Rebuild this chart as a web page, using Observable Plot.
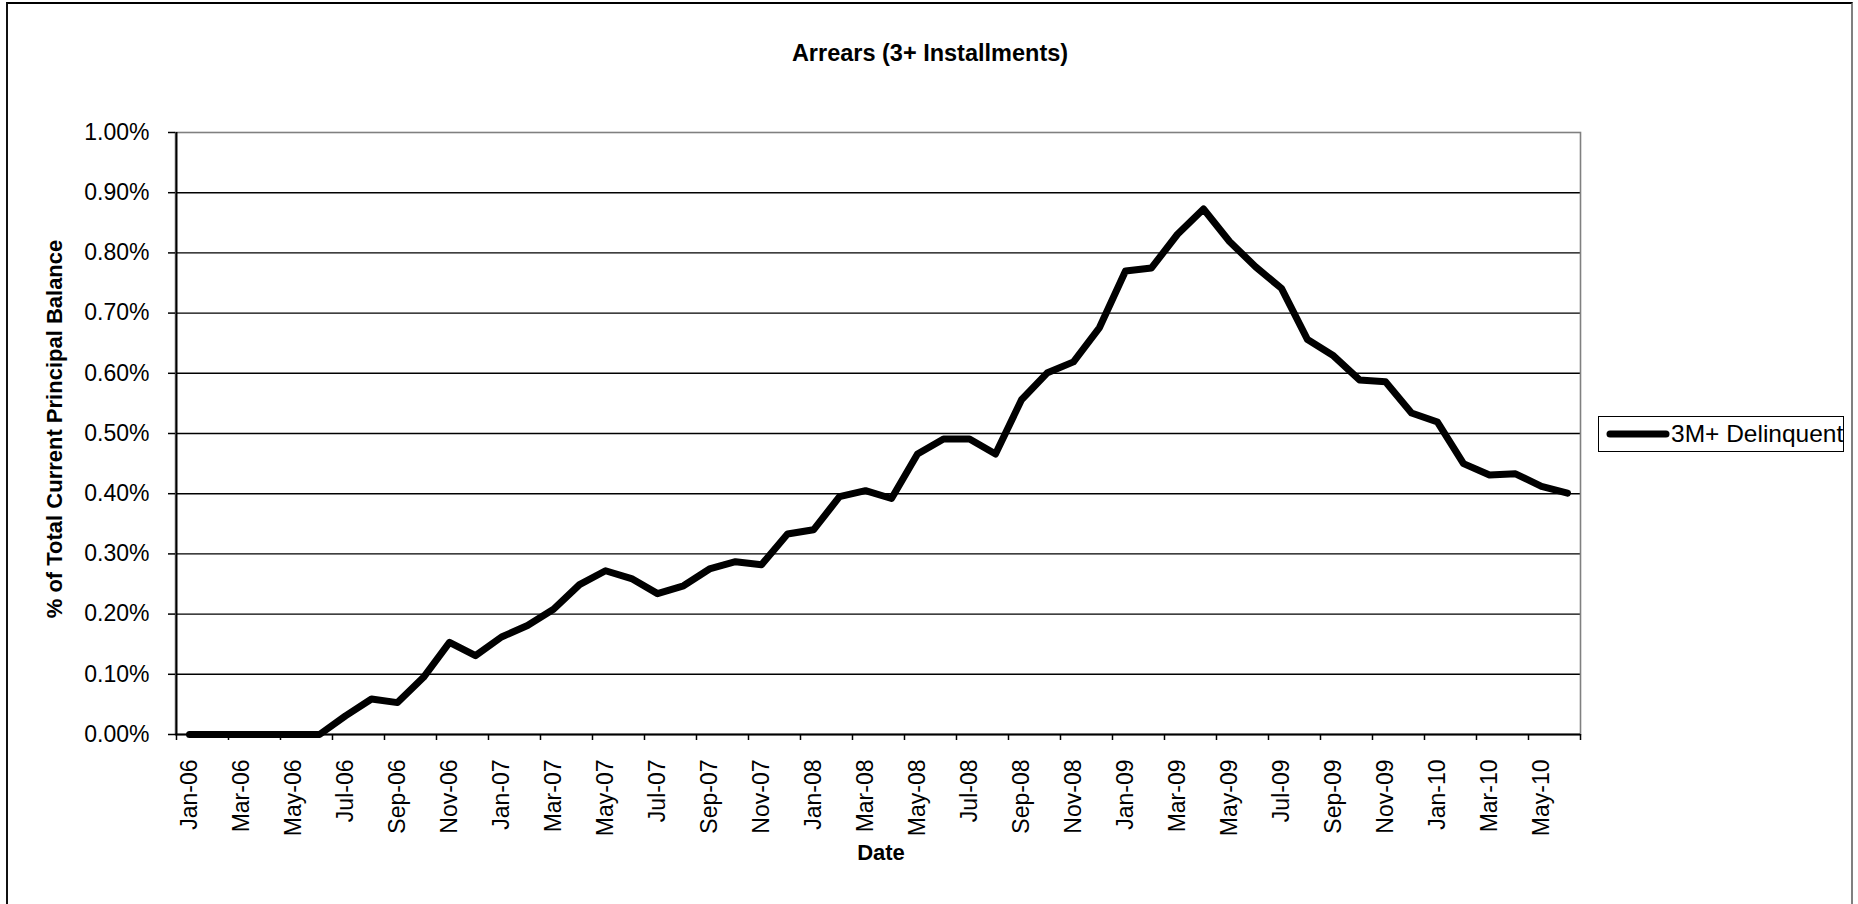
<!DOCTYPE html>
<html>
<head>
<meta charset="utf-8">
<script src="https://cdn.jsdelivr.net/npm/d3@7"></script>
<script src="https://cdn.jsdelivr.net/npm/@observablehq/plot@0.6"></script>
<style>
  html, body { margin: 0; padding: 0; background: #fff; overflow: hidden; width: 1858px; height: 904px; }
  body { position: relative; font-family: "Liberation Sans", Arial, sans-serif; color: #000; }
  #chart { position: absolute; left: 0; top: 0; }
  #border { position: absolute; left: 6px; top: 2px; width: 1847px; height: 1000px;
            border-top: 2.5px solid #000; border-left: 2px solid #111; border-right: 2px solid #808080; box-sizing: border-box; }
  .title { position: absolute; left: 630px; width: 600px; top: 41px; text-align: center;
           font-weight: bold; font-size: 23.5px; line-height: 24px; }
  .ytitle { position: absolute; left: 55px; top: 429px; transform: translate(-50%, -50%) rotate(-90deg);
            white-space: nowrap; font-weight: bold; font-size: 22px; }
  .xtitle { position: absolute; left: 881px; top: 853px; transform: translate(-50%, -50%);
            font-weight: bold; font-size: 22px; }
  .legend { position: absolute; left: 1598px; top: 416px; width: 246px; height: 36px;
            border: 1.5px solid #000; box-sizing: border-box; overflow: visible; }
  .legend svg { position: absolute; left: 6px; top: 9px; }
  .legend span { position: absolute; left: 72px; top: 5px; font-size: 24.5px; white-space: nowrap; line-height: 24px; }
</style>
</head>
<body>
<div id="border"></div>
<div id="chart"></div>
<div class="title">Arrears (3+ Installments)</div>
<div class="ytitle">% of Total Current Principal Balance</div>
<div class="xtitle">Date</div>
<div class="legend"><svg width="66" height="16"><line x1="5" y1="8" x2="61" y2="8" stroke="#000" stroke-width="7" stroke-linecap="round"/></svg><span id="legendText"></span></div>
<script>
const months = ["Jan-06","Feb-06","Mar-06","Apr-06","May-06","Jun-06","Jul-06","Aug-06","Sep-06","Oct-06","Nov-06","Dec-06",
  "Jan-07","Feb-07","Mar-07","Apr-07","May-07","Jun-07","Jul-07","Aug-07","Sep-07","Oct-07","Nov-07","Dec-07",
  "Jan-08","Feb-08","Mar-08","Apr-08","May-08","Jun-08","Jul-08","Aug-08","Sep-08","Oct-08","Nov-08","Dec-08",
  "Jan-09","Feb-09","Mar-09","Apr-09","May-09","Jun-09","Jul-09","Aug-09","Sep-09","Oct-09","Nov-09","Dec-09",
  "Jan-10","Feb-10","Mar-10","Apr-10","May-10","Jun-10"];

// % of total current principal balance, 3M+ delinquent
const delinquent3M = [0,0,0,0,0,0,0.031,0.059,0.053,0.095,0.153,0.131,
  0.162,0.181,0.208,0.249,0.272,0.259,0.234,0.247,0.275,0.287,0.282,0.333,
  0.340,0.395,0.405,0.392,0.466,0.491,0.491,0.466,0.556,0.601,0.619,0.676,
  0.770,0.775,0.831,0.873,0.819,0.777,0.741,0.656,0.629,0.589,0.586,0.534,
  0.519,0.450,0.431,0.433,0.412,0.401];

const xTickLabels = ["Jan-06","Mar-06","May-06","Jul-06","Sep-06","Nov-06","Jan-07","Mar-07","May-07","Jul-07","Sep-07","Nov-07",
  "Jan-08","Mar-08","May-08","Jul-08","Sep-08","Nov-08","Jan-09","Mar-09","May-09","Jul-09","Sep-09","Nov-09","Jan-10","Mar-10","May-10"];
const yTicks = [0,0.1,0.2,0.3,0.4,0.5,0.6,0.7,0.8,0.9,1.0];
const seriesName = "3M+ Delinquent";

document.getElementById("legendText").textContent = seriesName;

const data = months.map((m, i) => ({month: m, value: delinquent3M[i]}));

const W = 1858, H = 904;
const mL = 175, mR = 278, mT = 132, mB = 170;
const step = (W - mL - mR) / months.length;
const pct = d => d.toFixed(2) + "%";

const chart = Plot.plot({
  width: W, height: H,
  marginLeft: mL, marginRight: mR, marginTop: mT, marginBottom: mB,
  style: {fontFamily: "'Liberation Sans', Arial, sans-serif", background: "transparent", color: "#000", overflow: "visible"},
  x: {type: "point", domain: months, padding: 0.5},
  y: {domain: [0, 1]},
  marks: [
    Plot.ruleY(yTicks.slice(1, -1), {stroke: "#000", strokeWidth: 1.4}),
    Plot.frame({stroke: "#808080", strokeWidth: 1.6}),
    Plot.ruleY([0], {stroke: "#000", strokeWidth: 2}),
    Plot.ruleX([months[0]], {dx: -step / 2, stroke: "#000", strokeWidth: 2}),
    Plot.axisY({ticks: yTicks, tickSize: 7, tickPadding: 19, tickFormat: pct, fontSize: 23, label: null, stroke: "#000", strokeWidth: 1.5, strokeOpacity: 1}),
    Plot.axisX({ticks: xTickLabels, tickSize: 6, dx: -step / 2, tickFormat: () => "", label: null, stroke: "#000", strokeWidth: 1.5, strokeOpacity: 1}),
    Plot.axisX({ticks: [months[months.length - 1]], tickSize: 6, dx: step / 2, tickFormat: () => "", label: null, stroke: "#000", strokeWidth: 1.5, strokeOpacity: 1}),
    Plot.axisX({ticks: xTickLabels, tickSize: 0, tickPadding: 25, tickRotate: -90, fontSize: 23, label: null}),
    Plot.line(data, {x: "month", y: "value", stroke: "#000", strokeWidth: 7, strokeLinejoin: "round", strokeLinecap: "round"})
  ]
});
document.getElementById("chart").appendChild(chart);
</script>
</body>
</html>
